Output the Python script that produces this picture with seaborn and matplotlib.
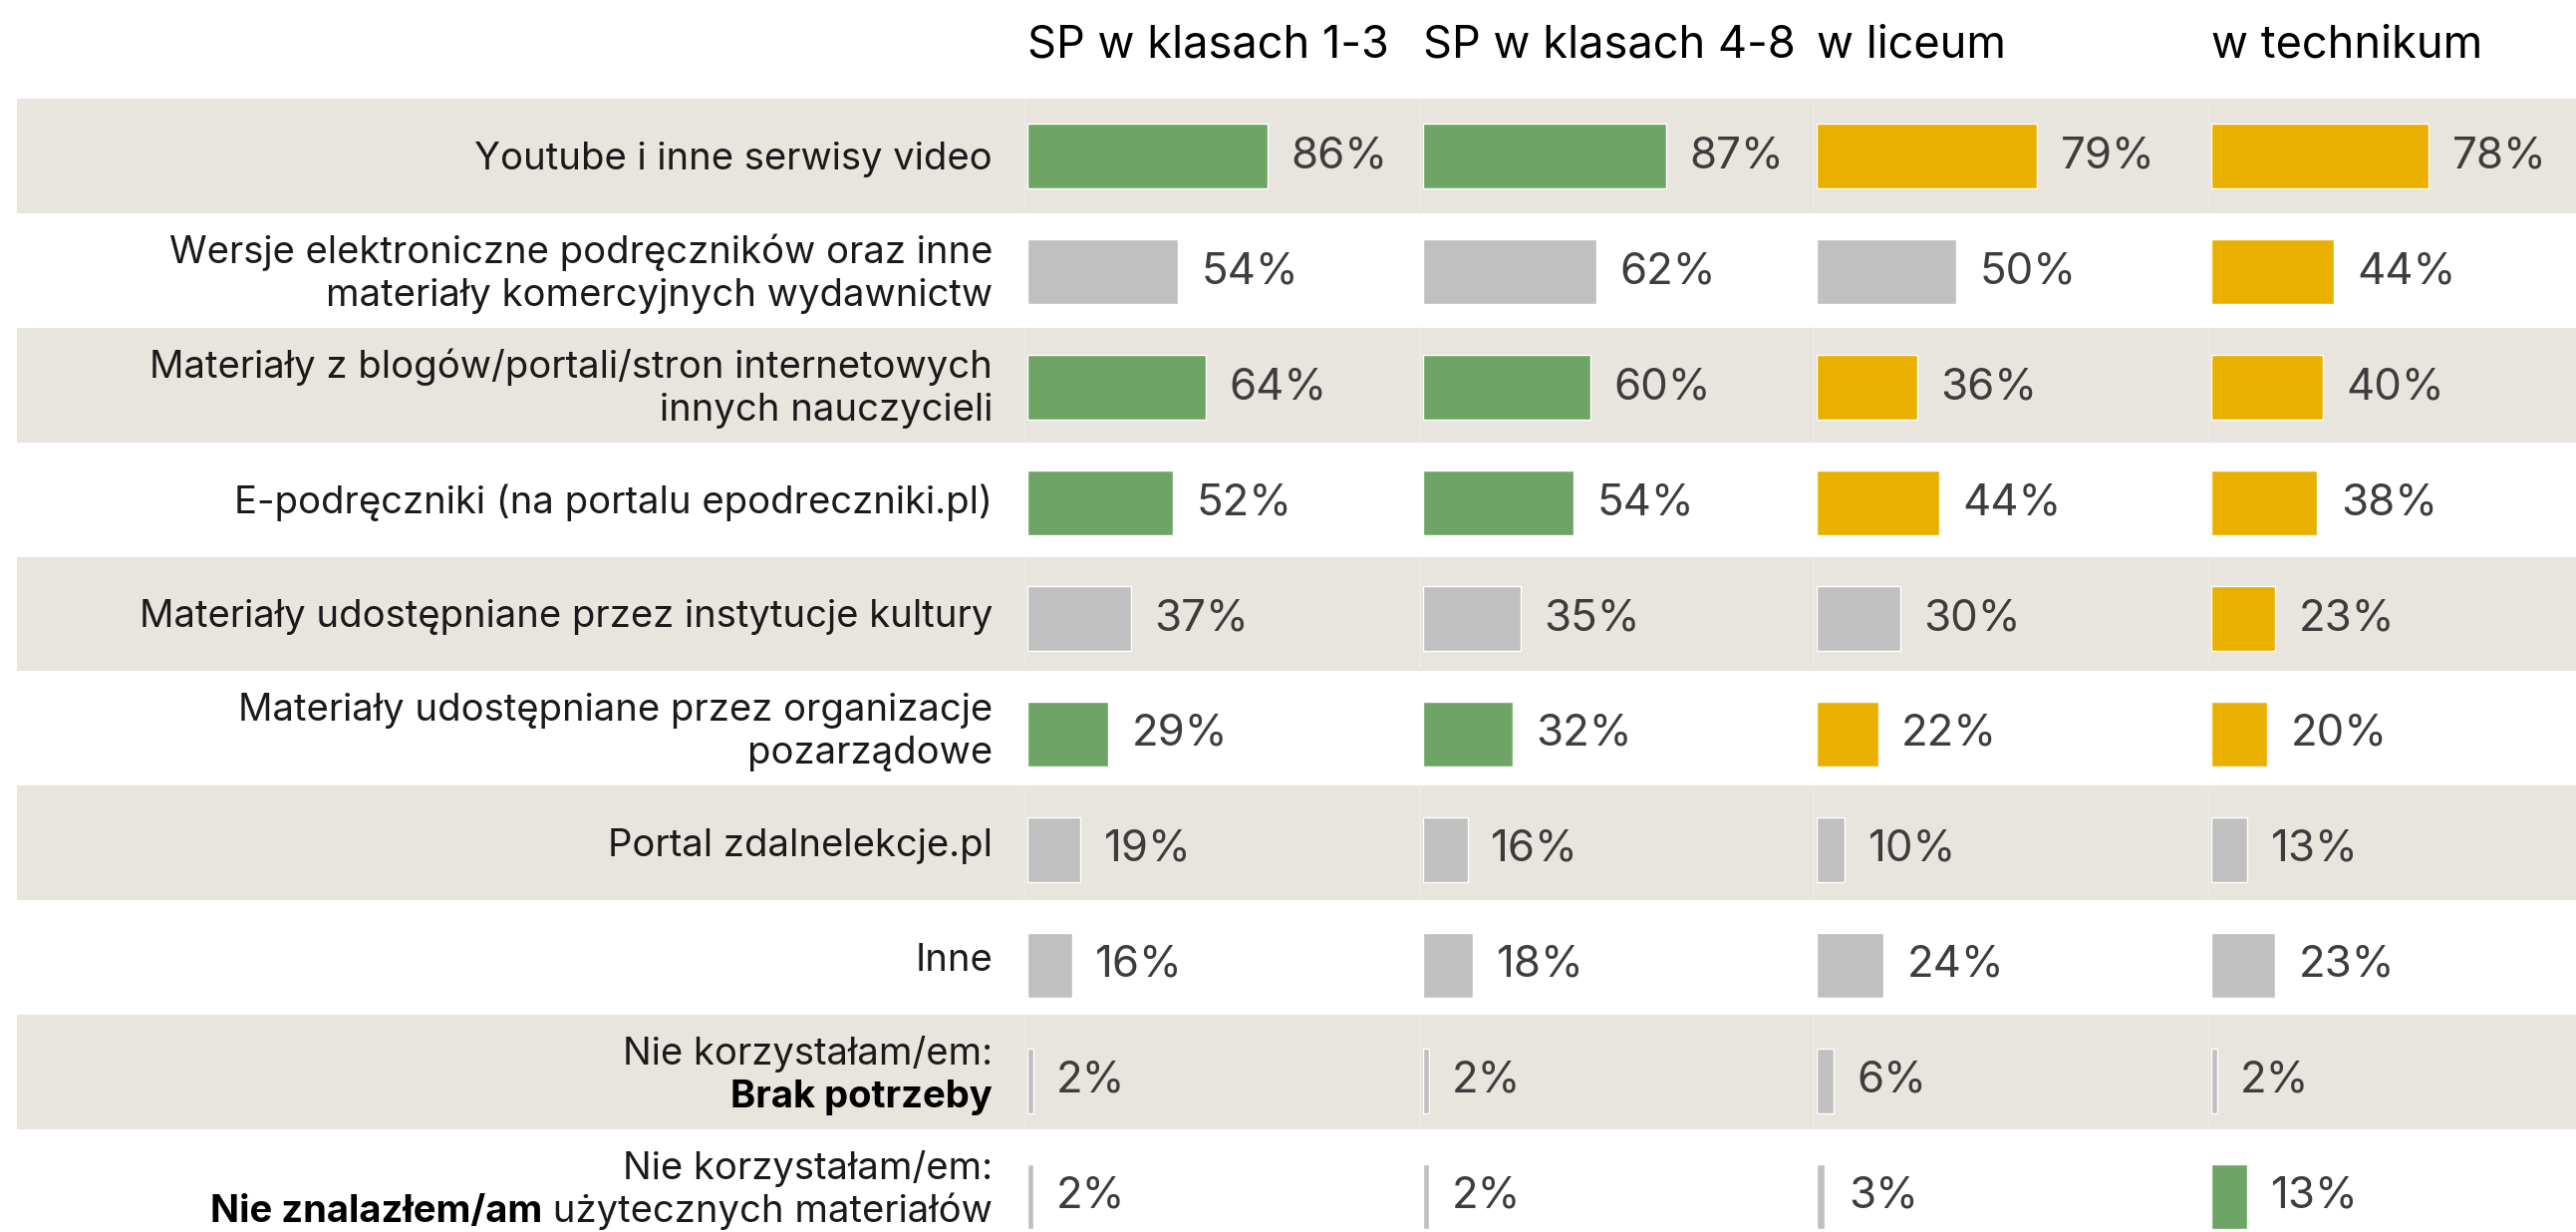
import matplotlib.pyplot as plt
import matplotlib.transforms as mtrans
import seaborn as sns
import pandas as pd

# --- dane ---
categories = [
    "Youtube i inne serwisy video",
    "Wersje elektroniczne podręczników oraz inne\nmateriały komercyjnych wydawnictw",
    "Materiały z blogów/portali/stron internetowych\ninnych nauczycieli",
    "E-podręczniki (na portalu epodreczniki.pl)",
    "Materiały udostępniane przez instytucje kultury",
    "Materiały udostępniane przez organizacje\npozarządowe",
    "Portal zdalnelekcje.pl",
    "Inne",
    "Nie korzystałam/em: Brak potrzeby",
    "Nie korzystałam/em: Nie znalazłem/am użytecznych materiałów",
]
groups = ["SP w klasach 1-3", "SP w klasach 4-8", "w liceum", "w technikum"]

sp_1_3 = [86, 54, 64, 52, 37, 29, 19, 16, 2, 2]
sp_4_8 = [87, 62, 60, 54, 35, 32, 16, 18, 2, 2]
liceum = [79, 50, 36, 44, 30, 22, 10, 24, 6, 3]
technikum = [78, 44, 40, 38, 23, 20, 13, 23, 2, 13]

# g = zielony, y = żółty, s = szary
hl_1_3 = ["g", "s", "g", "g", "s", "g", "s", "s", "s", "s"]
hl_4_8 = ["g", "s", "g", "g", "s", "g", "s", "s", "s", "s"]
hl_lic = ["y", "s", "y", "y", "s", "y", "s", "s", "s", "s"]
hl_tech = ["y", "y", "y", "y", "y", "y", "s", "s", "s", "g"]

values = [sp_1_3, sp_4_8, liceum, technikum]
highlights = [hl_1_3, hl_4_8, hl_lic, hl_tech]

COLORS = {"g": "#6EA566", "y": "#EAB000", "s": "#C0C0C0"}
BAND = "#E8E4DE"
TXT = "#1A1A1A"
PCT = "#3D3D3D"

sns.set_style("white")
plt.rcParams["font.family"] = ["Inter", "DejaVu Sans"]

W, H = 2585, 1236
N = len(categories)
TOP = 99
BAND_PITCH = 114.9   # pasy tła
BAR_PITCH = 115.9    # wiersze słupków
COL_X = [1031, 1428, 1823, 2219]
COL_W = 395
PX_PER_PCT = 2.8

fig = plt.figure(figsize=(W / 100, H / 100), dpi=100)

def axes_box(pitch):
    bottom_px = TOP + pitch * N
    return (H - bottom_px) / H, (bottom_px - TOP) / H

# tło z pasami
b0, bh = axes_box(BAND_PITCH)
bg = fig.add_axes([0, b0, 1, bh])
bg.set_xlim(0, W)
bg.set_ylim(N - 0.5, -0.5)
bg.axis("off")
for i in range(0, N, 2):
    bg.fill_between([17, W], i - 0.5, i + 0.5, color=BAND, lw=0, zorder=0)
    for cx in COL_X:
        bg.plot([cx - 3, cx - 3], [i - 0.5, i + 0.5], color="#EEEBE6", lw=1.2, zorder=1)

# etykiety kategorii
LBL_X = 996
fs_lbl = 27.5
off = 0.03
for i, cat in enumerate(categories[:8]):
    bg.text(LBL_X, i + off, cat, ha="right", va="center", multialignment="right",
            fontsize=fs_lbl, color=TXT, linespacing=1.24)

dy = 0.187
bg.text(LBL_X, 8 + off - dy, "Nie korzystałam/em:", ha="right", va="center", fontsize=fs_lbl, color=TXT)
bg.text(LBL_X, 8 + off + dy, "Brak potrzeby", ha="right", va="center", fontsize=fs_lbl,
        color="black", fontweight="bold")
bg.text(LBL_X, 9 + off - dy, "Nie korzystałam/em:", ha="right", va="center", fontsize=fs_lbl, color=TXT)
normal = bg.text(LBL_X, 9 + off + dy, " użytecznych materiałów", ha="right", va="center",
                 fontsize=fs_lbl, color=TXT)
bg.annotate("Nie znalazłem/am", xy=(0, 0), xycoords=normal, ha="right", va="bottom",
            fontsize=fs_lbl, color="black", fontweight="bold")

# słupki
a0, ah = axes_box(BAR_PITCH)
for k, (grp, vals, hl) in enumerate(zip(groups, values, highlights)):
    ax = fig.add_axes([COL_X[k] / W, a0, COL_W / W, ah])
    ax.patch.set_alpha(0)
    df = pd.DataFrame({"kategoria": categories, "wartosc": vals})
    pal = [COLORS[c] for c in hl]
    sns.barplot(data=df, x="wartosc", y="kategoria", hue="kategoria", palette=pal,
                legend=False, orient="h", width=0.56, saturation=1, ax=ax)
    for cont, v in zip(ax.containers, vals):
        ax.bar_label(cont, labels=[f"{v}%"], padding=17, fontsize=31.5, color=PCT)
    ax.set_xlim(0, COL_W / PX_PER_PCT)
    ax.set_ylim(N - 0.5, -0.5)
    ax.axis("off")
    fig.text(COL_X[k] / W, 1 - 57 / H, grp, ha="left", va="baseline", fontsize=32.5, color="black")

fig.savefig("out.png", dpi=100)
